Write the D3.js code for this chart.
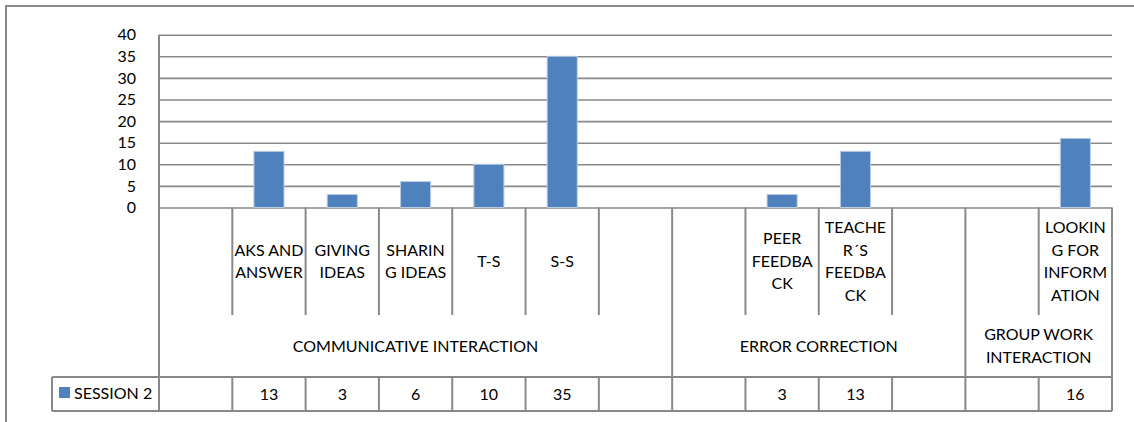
<!DOCTYPE html>
<html>
<head>
<meta charset="utf-8">
<script src="https://cdn.jsdelivr.net/npm/d3@7"></script>
<style>
  html, body { margin: 0; padding: 0; background: #fff; }
  svg { display: block; }
  text { font-family: Lato, "Open Sans", sans-serif; font-size: 16px; fill: #000; }
</style>
</head>
<body>
<svg id="chart" width="1134" height="422"></svg>
<script>
// Category labels, one per column (line breaks as they wrap in the cells)
const categories = [
  "", "AKS AND\nANSWER", "GIVING\nIDEAS", "SHARIN\nG IDEAS", "T-S", "S-S", "",
  "", "PEER\nFEEDBA\nCK", "TEACHE\nR´S\nFEEDBA\nCK", "",
  "", "LOOKIN\nG FOR\nINFORM\nATION"
];
// Outer category groups and how many columns each spans
const groupNames = ["COMMUNICATIVE INTERACTION", "ERROR CORRECTION", "GROUP WORK\nINTERACTION"];
const groupSizes = [7, 4, 2];
// Series
const seriesName = "SESSION 2";
const session2 = [null, 13, 3, 6, 10, 35, null, null, 3, 13, null, null, 16];
// Value axis
const yTicks = [0, 5, 10, 15, 20, 25, 30, 35, 40];

const svg = d3.select("#chart");
const lineColor = "#898989";
const barColor = "#4f81bd";

const plotLeft = 159, plotRight = 1112;
const yTop = 34.7, yBase = 207.5;
const catBottom = 315, groupBottom = 377, tableBottom = 411;
const legendLeft = 52;
const lineH = 22.5;

const x = d3.scaleBand().domain(d3.range(categories.length)).range([plotLeft, plotRight]).padding(0);
const y = d3.scaleLinear().domain([0, 40]).range([yBase, yTop]);

// outer frame (top and left edges visible)
svg.append("path")
  .attr("d", `M6,422V6H1134`)
  .attr("fill", "none").attr("stroke", lineColor).attr("stroke-width", 2);

// gridlines and tick labels
const yAxis = d3.axisLeft(y).tickValues(yTicks).tickSize(-(plotRight - plotLeft)).tickPadding(23);
const gy = svg.append("g").attr("transform", `translate(${plotLeft},0)`).call(yAxis);
gy.select(".domain").remove();
gy.selectAll(".tick line").attr("stroke", lineColor).attr("stroke-width", 1.6);
gy.selectAll(".tick text")
  .attr("fill", "#000")
  .style("font-family", "Lato, 'Open Sans', sans-serif")
  .style("font-size", "16px");

// bars
svg.append("g").selectAll("rect")
  .data(session2.map((v, i) => ({ v, i })).filter(d => d.v != null))
  .join("rect")
  .attr("x", d => x(d.i) + x.bandwidth() * 0.295)
  .attr("width", x.bandwidth() * 0.41)
  .attr("y", d => y(d.v))
  .attr("height", d => y(0) - y(d.v))
  .attr("fill", barColor)
  .attr("stroke", "#b7cbe4")
  .attr("stroke-width", 1);

// boundaries between columns / groups
const groupStarts = [0];
groupSizes.forEach((s, k) => groupStarts.push(groupStarts[k] + s));
const edges = d3.range(categories.length + 1);
const xEdge = i => (i < categories.length ? x(i) : plotRight);

const gl = svg.append("g").attr("stroke", lineColor).attr("stroke-width", 2).attr("fill", "none");
// value axis line
gl.append("line").attr("x1", plotLeft).attr("x2", plotLeft).attr("y1", yTop).attr("y2", tableBottom);
edges.forEach(i => {
  const xe = xEdge(i);
  if (groupStarts.includes(i)) {
    if (i !== 0) gl.append("line").attr("x1", xe).attr("x2", xe).attr("y1", yBase).attr("y2", tableBottom);
  } else {
    gl.append("line").attr("x1", xe).attr("x2", xe).attr("y1", yBase).attr("y2", catBottom);
    gl.append("line").attr("x1", xe).attr("x2", xe).attr("y1", groupBottom).attr("y2", tableBottom);
  }
});
// data table borders
gl.append("line").attr("x1", legendLeft).attr("x2", plotRight).attr("y1", groupBottom).attr("y2", groupBottom);
gl.append("line").attr("x1", legendLeft).attr("x2", plotRight).attr("y1", tableBottom).attr("y2", tableBottom);
gl.append("line").attr("x1", legendLeft).attr("x2", legendLeft).attr("y1", groupBottom).attr("y2", tableBottom);

// multi-line centred text helper
function multiline(sel, str, cx, cy) {
  const lines = str.split("\n");
  const t = sel.append("text").attr("text-anchor", "middle");
  lines.forEach((ln, k) => {
    t.append("tspan")
      .attr("x", cx)
      .attr("y", cy + (k - (lines.length - 1) / 2) * lineH)
      .attr("dy", "0.35em")
      .text(ln);
  });
}

// category labels
const gc = svg.append("g");
categories.forEach((c, i) => {
  if (c) multiline(gc, c, x(i) + x.bandwidth() / 2, (yBase + catBottom) / 2);
});

// group labels
const gg = svg.append("g");
groupNames.forEach((g, k) => {
  const x0 = xEdge(groupStarts[k]), x1 = xEdge(groupStarts[k + 1]);
  multiline(gg, g, (x0 + x1) / 2, (catBottom + groupBottom) / 2);
});

// data table values
const rowMid = (groupBottom + tableBottom) / 2;
svg.append("g").selectAll("text")
  .data(session2.map((v, i) => ({ v, i })).filter(d => d.v != null))
  .join("text")
  .attr("text-anchor", "middle")
  .attr("x", d => x(d.i) + x.bandwidth() / 2)
  .attr("y", rowMid)
  .attr("dy", "0.35em")
  .text(d => d.v);

// legend key in the table
svg.append("rect").attr("x", 59).attr("y", 387).attr("width", 11).attr("height", 11).attr("fill", barColor);
svg.append("text").attr("x", 74).attr("y", rowMid - 1).attr("dy", "0.35em").text(seriesName);
</script>
</body>
</html>
